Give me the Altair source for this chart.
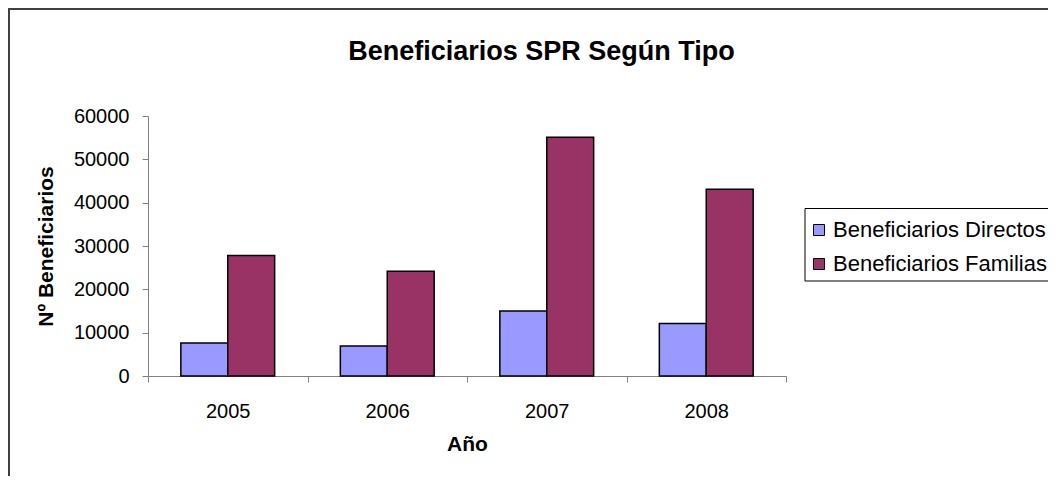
import altair as alt
import pandas as pd

years = ["2005", "2006", "2007", "2008"]
series = ["Beneficiarios Directos", "Beneficiarios Familias"]
directos = [7600, 6900, 15000, 12100]
familias = [27800, 24200, 55100, 43100]
colors = ["#9999FF", "#993366"]
title_text = "Beneficiarios SPR Según Tipo"

rows = []
for i, y in enumerate(years):
    rows.append({"Año": y, "Tipo": series[0], "Valor": directos[i]})
    rows.append({"Año": y, "Tipo": series[1], "Valor": familias[i]})
df = pd.DataFrame(rows)
one = pd.DataFrame({"t": [title_text]})

FONT = "Liberation Sans"

bars = alt.Chart(df).mark_bar(stroke="black", strokeWidth=1.5).encode(
    x=alt.X(
        "Año:N",
        sort=years,
        scale=alt.Scale(paddingInner=0, paddingOuter=0),
        axis=alt.Axis(
            title="Año",
            labelAngle=0,
            tickBand="extent",
            tickSize=6,
            labelPadding=19,
            labelFontSize=20,
            labelColor="black",
            titleFontSize=21,
            titleFontWeight="bold",
            titleColor="black",
            titleX=319,
            titleY=74,
            titleAlign="center",
            titleBaseline="alphabetic",
            domainColor="#808080",
            tickColor="#808080",
            labelFont=FONT,
            titleFont=FONT,
        ),
    ),
    xOffset=alt.XOffset(
        "Tipo:N", sort=series, scale=alt.Scale(paddingOuter=0.7, paddingInner=0)
    ),
    y=alt.Y(
        "Valor:Q",
        scale=alt.Scale(domain=[0, 60000], nice=False),
        axis=alt.Axis(
            title="Nº Beneficiarios",
            values=[0, 10000, 20000, 30000, 40000, 50000, 60000],
            format="d",
            grid=False,
            tickSize=6,
            labelPadding=13,
            labelFontSize=20,
            labelColor="black",
            titleFontSize=21,
            titleFontWeight="bold",
            titleColor="black",
            titleAngle=270,
            titleX=-96,
            titleY=130,
            titleAlign="center",
            titleBaseline="alphabetic",
            domainColor="#808080",
            tickColor="#808080",
            labelFont=FONT,
            titleFont=FONT,
        ),
    ),
    color=alt.Color(
        "Tipo:N",
        sort=series,
        scale=alt.Scale(domain=series, range=colors),
        legend=alt.Legend(
            title=None,
            orient="none",
            legendX=650,
            legendY=93,
            symbolType="square",
            symbolSize=121,
            symbolStrokeColor="black",
            symbolStrokeWidth=1,
            symbolOpacity=1,
            labelFontSize=22,
            labelFont=FONT,
            labelColor="black",
            labelLimit=400,
            labelOffset=3,
            rowPadding=12,
            padding=10,
            strokeColor="transparent",
        ),
    ),
)

border = alt.Chart(one).mark_rect(
    fill="transparent", stroke="#404040", strokeWidth=2
).encode(
    x=alt.value(-139), x2=alt.value(2000), y=alt.value(-107), y2=alt.value(2000)
)

legend_box = alt.Chart(one).mark_rect(
    fill="white", stroke="black", strokeWidth=1
).encode(
    x=alt.value(657), x2=alt.value(2000), y=alt.value(92.5), y2=alt.value(165)
)

title = alt.Chart(one).mark_text(
    fontSize=27, fontWeight="bold", font=FONT, color="black",
    align="center", baseline="alphabetic"
).encode(text="t:N", x=alt.value(393.5), y=alt.value(-56))

chart = alt.layer(border, legend_box, title, bars).properties(
    width=638,
    height=260,
    autosize=alt.AutoSizeParams(type="none"),
    padding={"left": 140, "top": 108, "right": 262, "bottom": 100},
).configure_view(strokeWidth=0)

chart.save("out.html", embed_options={"renderer": "svg", "actions": False})
